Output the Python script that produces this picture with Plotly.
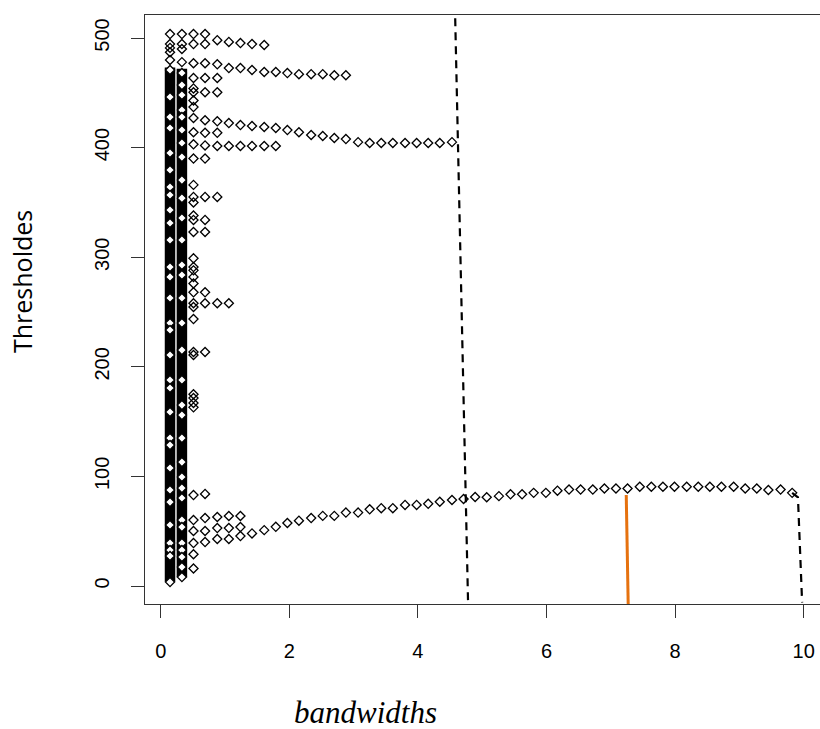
import plotly.graph_objects as go

# bandwidth grid (x values of the columns)
bandwidths = [0.145, 0.33, 0.51, 0.69, 0.88, 1.06, 1.24, 1.42, 1.61, 1.79, 1.97, 2.15, 2.34, 2.52,
              2.70, 2.88, 3.07, 3.25, 3.43, 3.61, 3.80, 3.98, 4.16, 4.34, 4.53, 4.71, 4.89, 5.07,
              5.26, 5.44, 5.62, 5.80, 5.99, 6.17, 6.35, 6.53, 6.72, 6.90, 7.08, 7.26, 7.45, 7.63,
              7.81, 7.99, 8.18, 8.36, 8.54, 8.72, 8.91, 9.09, 9.27, 9.45, 9.64, 9.82]

# rows of points: (first column index, thresholds)
row_top_start = 0
row_top = [503.6, 503.6, 503.6, 503.6, 498, 496.4, 495.4, 494.5, 493.6]
row_494_start = 0
row_494 = [494.5, 494.5, 494.5, 494.5]
row_466_start = 1
row_466 = [478, 477, 477, 476, 472.6, 472.6, 470.8, 469, 469, 468, 467, 467, 467, 466, 466]
row_463_start = 2
row_463 = [463.5, 463.5, 463.5]
row_450_start = 2
row_450 = [450.5, 450.5, 450.5]
row_long_start = 2
row_long = [427, 425, 424, 422.4, 420.6, 419.7, 418.8, 417.9, 416, 414, 411.5, 410.6, 408.8,
            407.8, 405, 404.2, 404.2, 404.2, 404.2, 404.2, 404.2, 404.2, 405]
row_414_start = 2
row_414 = [414, 413.5, 413.5]
row_402_start = 2
row_402 = [403, 402, 401.5, 401.5, 401.5, 401.5, 401.5, 401.5]
row_390_start = 2
row_390 = [390, 390]
row_355_start = 2
row_355 = [355, 355, 355]
row_334_start = 2
row_334 = [334, 334]
row_323_start = 2
row_323 = [323, 323]
row_268_start = 2
row_268 = [268, 268]
row_258_start = 2
row_258 = [258, 258, 258, 258]
row_213_start = 2
row_213 = [213.5, 213.5]
row_83_start = 2
row_83 = [83, 84]
row_a_low_start = 2
row_a_low = [60.2, 62, 63, 63.9, 63.9]
row_b_low_start = 2
row_b_low = [50.2, 50.2, 52.9, 52.9, 53.8]
curve_low_start = 2
curve_low = [39.2, 40.1, 42.9, 42.9, 45.6, 48, 51, 54, 57.5, 59.6, 62, 64, 64, 67, 67, 70, 71, 71,
             74, 74, 75, 76.9, 78.5, 79.4, 81.2, 81, 82, 83.7, 83.7, 85, 85, 87, 88, 88, 88, 89,
             89, 89, 90.6, 90.6, 90.6, 90.6, 90.6, 90.6, 90.6, 90.6, 90.6, 89, 89, 87.6, 88, 85]

# single points per column
col0_single = [491, 487, 480]
col1_single = [490]
col2_single = [454, 443, 437, 366, 350, 338, 299, 291, 288, 282, 276, 254.6, 243.6, 210.8,
                175, 171.5, 167, 163, 29, 16]

# dense (solid) columns: bottom / top thresholds
band_bottom = [4, 8]
band_top = [473, 472]
# visible gaps inside the dense columns
col0_gaps = [470.8, 446.2, 427.9, 417.9, 395.1, 379.6, 364.1, 356.8, 343.1, 331.2, 315.7, 291.1,
             282.0, 262.8, 240.0, 233.6, 210.8, 188.0, 180.7, 158.8, 135.0, 128.6, 107.7, 87.6,
             76.6, 55.7, 39.2, 32.8, 27.4, 3.6]
col1_gaps = [468.1, 457.1, 448.0, 434.3, 427.9, 416.1, 404.2, 391.4, 370.4, 353.9, 335.8, 315.7,
             292.9, 283.8, 262.8, 240.0, 215.3, 188.0, 165.1, 156.0, 135.0, 113.1, 99.5, 89.4,
             80.3, 60.2, 53.8, 39.2, 32.8, 26.5, 17.3, 8.2]

# reference lines
dash1_x = [4.58, 4.78]
dash1_y = [518, -15]
dash2_x = [9.82, 9.91, 9.975]
dash2_y = [85, 81, -15]
orange_x = [7.24, 7.27]
orange_y = [83, -16.4]

x_ticks = [0, 2, 4, 6, 8, 10]
y_ticks = [0, 100, 200, 300, 400, 500]
x_range = [-0.244, 10.253]
y_range = [-16.4, 521]

# collect all open points
px, py = [], []
rows = [(row_top_start, row_top), (row_494_start, row_494), (row_466_start, row_466),
        (row_463_start, row_463), (row_450_start, row_450), (row_long_start, row_long),
        (row_414_start, row_414), (row_402_start, row_402), (row_390_start, row_390),
        (row_355_start, row_355), (row_334_start, row_334), (row_323_start, row_323),
        (row_268_start, row_268), (row_258_start, row_258), (row_213_start, row_213),
        (row_83_start, row_83), (row_a_low_start, row_a_low), (row_b_low_start, row_b_low),
        (curve_low_start, curve_low)]
for start, vals in rows:
    for i, v in enumerate(vals):
        px.append(bandwidths[start + i])
        py.append(v)
for ci, vals in [(0, col0_single), (1, col1_single), (2, col2_single)]:
    for v in vals:
        px.append(bandwidths[ci])
        py.append(v)

fig = go.Figure()

# dense columns
for ci in range(2):
    fig.add_trace(go.Scatter(x=[bandwidths[ci], bandwidths[ci]], y=[band_bottom[ci], band_top[ci]],
                             mode="lines", line=dict(color="black", width=10.5),
                             showlegend=False, hoverinfo="skip"))
# gaps inside dense columns
gx = [bandwidths[0]] * len(col0_gaps) + [bandwidths[1]] * len(col1_gaps)
gy = col0_gaps + col1_gaps
fig.add_trace(go.Scatter(x=gx, y=gy, mode="markers",
                         marker=dict(symbol="diamond", size=7, color="white",
                                     line=dict(color="black", width=1.3)),
                         showlegend=False))

fig.add_trace(go.Scatter(x=px, y=py, mode="markers",
                         marker=dict(symbol="diamond-open", size=7, color="black",
                                     line=dict(color="black", width=1.3)),
                         showlegend=False))

fig.add_trace(go.Scatter(x=dash1_x, y=dash1_y, mode="lines",
                         line=dict(color="black", width=2.2, dash="8px,6px"), showlegend=False))
fig.add_trace(go.Scatter(x=dash2_x, y=dash2_y, mode="lines",
                         line=dict(color="black", width=2.2, dash="8px,6px"), showlegend=False))
fig.add_trace(go.Scatter(x=orange_x, y=orange_y, mode="lines",
                         line=dict(color="#E6720F", width=3), showlegend=False))

tickfont = dict(family="Liberation Sans", size=20, color="black")
fig.update_layout(
    width=820, height=729,
    margin=dict(l=145, r=0, t=15, b=125),
    plot_bgcolor="white", paper_bgcolor="white",
    xaxis=dict(range=x_range, tickvals=x_ticks, ticktext=[str(v) for v in x_ticks],
               showgrid=False, zeroline=False, showline=True, linecolor="#333", linewidth=1.2,
               mirror=True, ticks="outside", ticklen=13, tickwidth=1.2, tickcolor="#333",
               tickfont=tickfont, ticklabelstandoff=16),
    yaxis=dict(range=y_range, tickvals=y_ticks, ticktext=[str(v) for v in y_ticks],
               showgrid=False, zeroline=False, showline=True, linecolor="#333", linewidth=1.2,
               mirror=False, ticks="outside", ticklen=13, tickwidth=1.2, tickcolor="#333",
               tickfont=tickfont, tickangle=-90, ticklabelstandoff=14),
    annotations=[
        dict(text="bandwidths", xref="paper", yref="paper", x=(365 - 145) / 675,
             y=(604 - 712) / 589, xanchor="center", yanchor="middle", showarrow=False,
             font=dict(family="Liberation Serif", style="italic",
                       size=31, color="black")),
        dict(text="Thresholdes", xref="paper", yref="paper", x=(22 - 145) / 675,
             y=(604 - 282) / 589, xanchor="center", yanchor="middle", showarrow=False,
             textangle=-90,
             font=dict(family="Open Sans", size=25, color="black")),
    ],
)

fig.write_html("out.html")
